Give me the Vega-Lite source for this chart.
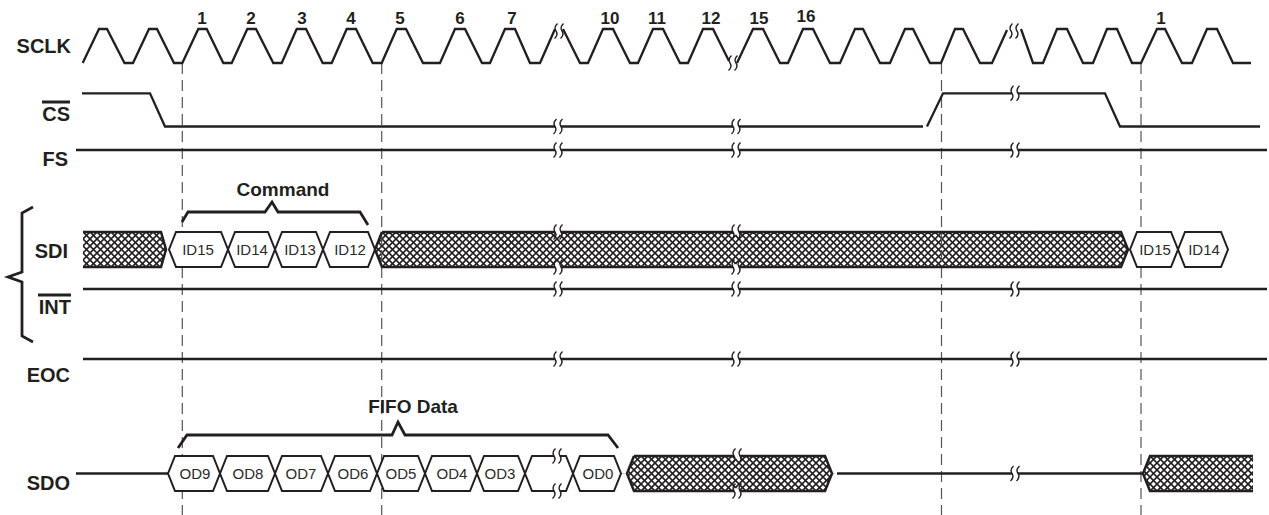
{
"$schema": "https://vega.github.io/schema/vega-lite/v6.json",
"width": 1269, "height": 515, "padding": 0, "autosize": {"type": "none"},
"background": "white",
"config": {"view": {"stroke": null}},
"datasets": {
"dash": [{"x":182.3,"y":63,"y2":515},{"x":381.7,"y":63,"y2":515},{"x":941.5,"y":63,"y2":515},{"x":1141,"y":63,"y2":515}],
"hatch": [
{"b":"A","x":13,"y":267},{"b":"A","x":48,"y":232},{"b":"A","x":83,"y":267},{"b":"A","x":118,"y":232},{"b":"A","x":153,"y":267},{"b":"A","x":188,"y":232},
{"b":"B","x":305,"y":267},{"b":"B","x":340,"y":232},{"b":"B","x":375,"y":267},{"b":"B","x":410,"y":232},{"b":"B","x":445,"y":267},{"b":"B","x":480,"y":232},{"b":"B","x":515,"y":267},{"b":"B","x":550,"y":232},{"b":"B","x":585,"y":267},{"b":"B","x":620,"y":232},{"b":"B","x":655,"y":267},{"b":"B","x":690,"y":232},{"b":"B","x":725,"y":267},{"b":"B","x":760,"y":232},{"b":"B","x":795,"y":267},{"b":"B","x":830,"y":232},{"b":"B","x":865,"y":267},{"b":"B","x":900,"y":232},{"b":"B","x":935,"y":267},{"b":"B","x":970,"y":232},{"b":"B","x":1005,"y":267},{"b":"B","x":1040,"y":232},{"b":"B","x":1075,"y":267},{"b":"B","x":1110,"y":232},{"b":"B","x":1145,"y":267},
{"b":"C","x":557,"y":491},{"b":"C","x":592,"y":456},{"b":"C","x":627,"y":491},{"b":"C","x":662,"y":456},{"b":"C","x":697,"y":491},{"b":"C","x":732,"y":456},{"b":"C","x":767,"y":491},{"b":"C","x":802,"y":456},{"b":"C","x":837,"y":491},
{"b":"D","x":1073,"y":491},{"b":"D","x":1108,"y":456},{"b":"D","x":1143,"y":491},{"b":"D","x":1178,"y":456},{"b":"D","x":1213,"y":491},{"b":"D","x":1248,"y":456},{"b":"D","x":1283,"y":491}
],
"masks": [
{"id":"m1","x":0,"y":229,"y2":270},{"id":"m1","x":83,"y":229,"y2":270},
{"id":"m2u","x":161,"y":229,"y2":232},{"id":"m2u","x":166,"y":229,"y2":249.5},{"id":"m2u","x":375,"y":229,"y2":249.5},{"id":"m2u","x":382,"y":229,"y2":232},
{"id":"m2l","x":161,"y":267,"y2":270},{"id":"m2l","x":166,"y":249.5,"y2":270},{"id":"m2l","x":375,"y":249.5,"y2":270},{"id":"m2l","x":382,"y":267,"y2":270},
{"id":"m3u","x":1121,"y":229,"y2":232},{"id":"m3u","x":1128,"y":229,"y2":249.5},{"id":"m3u","x":1220,"y":229,"y2":249.5},
{"id":"m3l","x":1121,"y":267,"y2":270},{"id":"m3l","x":1128,"y":249.5,"y2":270},{"id":"m3l","x":1220,"y":249.5,"y2":270},
{"id":"m4u","x":550,"y":453,"y2":473.5},{"id":"m4u","x":627,"y":453,"y2":473.5},{"id":"m4u","x":634,"y":453,"y2":456},
{"id":"m4l","x":550,"y":473.5,"y2":494},{"id":"m4l","x":627,"y":473.5,"y2":494},{"id":"m4l","x":634,"y":491,"y2":494},
{"id":"m5u","x":825,"y":453,"y2":456},{"id":"m5u","x":832,"y":453,"y2":473.5},{"id":"m5u","x":910,"y":453,"y2":473.5},
{"id":"m5l","x":825,"y":491,"y2":494},{"id":"m5l","x":832,"y":473.5,"y2":494},{"id":"m5l","x":910,"y":473.5,"y2":494},
{"id":"m6u","x":1065,"y":453,"y2":473.5},{"id":"m6u","x":1143,"y":453,"y2":473.5},{"id":"m6u","x":1150,"y":453,"y2":456},
{"id":"m6l","x":1065,"y":473.5,"y2":494},{"id":"m6l","x":1143,"y":473.5,"y2":494},{"id":"m6l","x":1150,"y":491,"y2":494},
{"id":"m7","x":1253,"y":453,"y2":494},{"id":"m7","x":1300,"y":453,"y2":494}
],
"cells": [
{"id":"ID15a","x":169,"y":249.5,"y2":249.5},{"id":"ID15a","x":176,"y":232,"y2":267},{"id":"ID15a","x":221,"y":232,"y2":267},{"id":"ID15a","x":228,"y":249.5,"y2":249.5},
{"id":"ID14a","x":228,"y":249.5,"y2":249.5},{"id":"ID14a","x":235,"y":232,"y2":267},{"id":"ID14a","x":268,"y":232,"y2":267},{"id":"ID14a","x":275,"y":249.5,"y2":249.5},
{"id":"ID13","x":275,"y":249.5,"y2":249.5},{"id":"ID13","x":282,"y":232,"y2":267},{"id":"ID13","x":316,"y":232,"y2":267},{"id":"ID13","x":323,"y":249.5,"y2":249.5},
{"id":"ID12","x":323,"y":249.5,"y2":249.5},{"id":"ID12","x":330,"y":232,"y2":267},{"id":"ID12","x":368,"y":232,"y2":267},{"id":"ID12","x":375,"y":249.5,"y2":249.5},
{"id":"ID15b","x":1130,"y":249.5,"y2":249.5},{"id":"ID15b","x":1137,"y":232,"y2":267},{"id":"ID15b","x":1171,"y":232,"y2":267},{"id":"ID15b","x":1178,"y":249.5,"y2":249.5},
{"id":"ID14b","x":1178,"y":249.5,"y2":249.5},{"id":"ID14b","x":1185,"y":232,"y2":267},{"id":"ID14b","x":1221,"y":232,"y2":267},{"id":"ID14b","x":1228,"y":249.5,"y2":249.5},
{"id":"OD9","x":168,"y":473.5,"y2":473.5},{"id":"OD9","x":175,"y":456,"y2":491},{"id":"OD9","x":213,"y":456,"y2":491},{"id":"OD9","x":220,"y":473.5,"y2":473.5},
{"id":"OD8","x":220,"y":473.5,"y2":473.5},{"id":"OD8","x":227,"y":456,"y2":491},{"id":"OD8","x":268,"y":456,"y2":491},{"id":"OD8","x":275,"y":473.5,"y2":473.5},
{"id":"OD7","x":275,"y":473.5,"y2":473.5},{"id":"OD7","x":282,"y":456,"y2":491},{"id":"OD7","x":321,"y":456,"y2":491},{"id":"OD7","x":328,"y":473.5,"y2":473.5},
{"id":"OD6","x":328,"y":473.5,"y2":473.5},{"id":"OD6","x":335,"y":456,"y2":491},{"id":"OD6","x":370,"y":456,"y2":491},{"id":"OD6","x":377,"y":473.5,"y2":473.5},
{"id":"OD5","x":377,"y":473.5,"y2":473.5},{"id":"OD5","x":384,"y":456,"y2":491},{"id":"OD5","x":418,"y":456,"y2":491},{"id":"OD5","x":425,"y":473.5,"y2":473.5},
{"id":"OD4","x":425,"y":473.5,"y2":473.5},{"id":"OD4","x":432,"y":456,"y2":491},{"id":"OD4","x":470,"y":456,"y2":491},{"id":"OD4","x":477,"y":473.5,"y2":473.5},
{"id":"OD3","x":477,"y":473.5,"y2":473.5},{"id":"OD3","x":484,"y":456,"y2":491},{"id":"OD3","x":518,"y":456,"y2":491},{"id":"OD3","x":525,"y":473.5,"y2":473.5},
{"id":"ODx","x":525,"y":473.5,"y2":473.5},{"id":"ODx","x":532,"y":456,"y2":491},{"id":"ODx","x":566,"y":456,"y2":491},{"id":"ODx","x":573,"y":473.5,"y2":473.5},
{"id":"OD0","x":573,"y":473.5,"y2":473.5},{"id":"OD0","x":580,"y":456,"y2":491},{"id":"OD0","x":614,"y":456,"y2":491},{"id":"OD0","x":621,"y":473.5,"y2":473.5}
],
"ctext": [
{"t":"ID15","x":198,"y":250},{"t":"ID14","x":252,"y":250},{"t":"ID13","x":300,"y":250},{"t":"ID12","x":350,"y":250},{"t":"ID15","x":1155,"y":250},{"t":"ID14","x":1204,"y":250},
{"t":"OD9","x":195,"y":474},{"t":"OD8","x":248,"y":474},{"t":"OD7","x":301,"y":474},{"t":"OD6","x":353,"y":474},{"t":"OD5","x":401,"y":474},{"t":"OD4","x":452,"y":474},{"t":"OD3","x":500,"y":474},{"t":"OD0","x":598,"y":474}
],
"wires": [
{"id":"s1","k":"sig","x":82.7,"y":63},{"id":"s1","k":"sig","x":99,"y":29},{"id":"s1","k":"sig","x":107,"y":29},{"id":"s1","k":"sig","x":124.5,"y":63},{"id":"s1","k":"sig","x":133,"y":63},{"id":"s1","k":"sig","x":149,"y":29},{"id":"s1","k":"sig","x":157,"y":29},{"id":"s1","k":"sig","x":174,"y":63},{"id":"s1","k":"sig","x":182.3,"y":63},{"id":"s1","k":"sig","x":198.3,"y":29},{"id":"s1","k":"sig","x":206.7,"y":29},{"id":"s1","k":"sig","x":223.3,"y":63},{"id":"s1","k":"sig","x":231.7,"y":63},{"id":"s1","k":"sig","x":247.3,"y":29},{"id":"s1","k":"sig","x":256,"y":29},{"id":"s1","k":"sig","x":273.3,"y":63},{"id":"s1","k":"sig","x":281.7,"y":63},{"id":"s1","k":"sig","x":296.7,"y":29},{"id":"s1","k":"sig","x":306,"y":29},{"id":"s1","k":"sig","x":322.7,"y":63},{"id":"s1","k":"sig","x":331.7,"y":63},{"id":"s1","k":"sig","x":346.7,"y":29},{"id":"s1","k":"sig","x":356,"y":29},{"id":"s1","k":"sig","x":372.7,"y":63},{"id":"s1","k":"sig","x":381.7,"y":63},{"id":"s1","k":"sig","x":396.7,"y":29},{"id":"s1","k":"sig","x":406,"y":29},{"id":"s1","k":"sig","x":423,"y":63},{"id":"s1","k":"sig","x":440,"y":63},{"id":"s1","k":"sig","x":455,"y":29},{"id":"s1","k":"sig","x":465,"y":29},{"id":"s1","k":"sig","x":482,"y":63},{"id":"s1","k":"sig","x":490,"y":63},{"id":"s1","k":"sig","x":505,"y":29},{"id":"s1","k":"sig","x":515,"y":29},{"id":"s1","k":"sig","x":530,"y":63},{"id":"s1","k":"sig","x":540,"y":63},{"id":"s1","k":"sig","x":555,"y":29},
{"id":"s2","k":"sig","x":563,"y":29},{"id":"s2","k":"sig","x":580,"y":63},{"id":"s2","k":"sig","x":588,"y":63},{"id":"s2","k":"sig","x":603,"y":29},{"id":"s2","k":"sig","x":613,"y":29},{"id":"s2","k":"sig","x":630,"y":63},{"id":"s2","k":"sig","x":638,"y":63},{"id":"s2","k":"sig","x":653,"y":29},{"id":"s2","k":"sig","x":663,"y":29},{"id":"s2","k":"sig","x":680,"y":63},{"id":"s2","k":"sig","x":688,"y":63},{"id":"s2","k":"sig","x":703,"y":29},{"id":"s2","k":"sig","x":713,"y":29},{"id":"s2","k":"sig","x":729,"y":61},
{"id":"s3","k":"sig","x":737,"y":63},{"id":"s3","k":"sig","x":753,"y":29},{"id":"s3","k":"sig","x":763,"y":29},{"id":"s3","k":"sig","x":780,"y":63},{"id":"s3","k":"sig","x":788,"y":63},{"id":"s3","k":"sig","x":803,"y":29},{"id":"s3","k":"sig","x":813,"y":29},{"id":"s3","k":"sig","x":830,"y":63},{"id":"s3","k":"sig","x":840,"y":63},{"id":"s3","k":"sig","x":855,"y":29},{"id":"s3","k":"sig","x":863,"y":29},{"id":"s3","k":"sig","x":880,"y":63},{"id":"s3","k":"sig","x":890,"y":63},{"id":"s3","k":"sig","x":905,"y":29},{"id":"s3","k":"sig","x":913,"y":29},{"id":"s3","k":"sig","x":930,"y":63},{"id":"s3","k":"sig","x":941,"y":63},{"id":"s3","k":"sig","x":955,"y":29},{"id":"s3","k":"sig","x":963,"y":29},{"id":"s3","k":"sig","x":980,"y":63},{"id":"s3","k":"sig","x":992,"y":63},{"id":"s3","k":"sig","x":1007,"y":30},
{"id":"s4","k":"sig","x":1021,"y":29},{"id":"s4","k":"sig","x":1033,"y":63},{"id":"s4","k":"sig","x":1043,"y":63},{"id":"s4","k":"sig","x":1057,"y":29},{"id":"s4","k":"sig","x":1067,"y":29},{"id":"s4","k":"sig","x":1083,"y":63},{"id":"s4","k":"sig","x":1093,"y":63},{"id":"s4","k":"sig","x":1107,"y":29},{"id":"s4","k":"sig","x":1117,"y":29},{"id":"s4","k":"sig","x":1132,"y":63},{"id":"s4","k":"sig","x":1141,"y":63},{"id":"s4","k":"sig","x":1157,"y":29},{"id":"s4","k":"sig","x":1165,"y":29},{"id":"s4","k":"sig","x":1182,"y":63},{"id":"s4","k":"sig","x":1192,"y":63},{"id":"s4","k":"sig","x":1207,"y":29},{"id":"s4","k":"sig","x":1217,"y":29},{"id":"s4","k":"sig","x":1233,"y":63},{"id":"s4","k":"sig","x":1251,"y":63},
{"id":"c1","k":"sig","x":82,"y":93.3},{"id":"c1","k":"sig","x":150,"y":93.3},{"id":"c1","k":"sig","x":165,"y":126.5},{"id":"c1","k":"sig","x":923,"y":126.5},
{"id":"c2","k":"sig","x":927,"y":126.5},{"id":"c2","k":"sig","x":943,"y":93.3},{"id":"c2","k":"sig","x":1105,"y":93.3},{"id":"c2","k":"sig","x":1120,"y":126.5},{"id":"c2","k":"sig","x":1260,"y":126.5},
{"id":"fs","k":"sig","x":76,"y":150},{"id":"fs","k":"sig","x":1267,"y":150},
{"id":"int","k":"sig","x":83,"y":289},{"id":"int","k":"sig","x":1267,"y":289},
{"id":"eoc","k":"sig","x":83,"y":359},{"id":"eoc","k":"sig","x":1267,"y":359},
{"id":"sdo1","k":"sig","x":76,"y":473.5},{"id":"sdo1","k":"sig","x":168,"y":473.5},
{"id":"sdo2","k":"sig","x":837,"y":473.5},{"id":"sdo2","k":"sig","x":1143,"y":473.5},
{"id":"bA","k":"band","x":83,"y":232},{"id":"bA","k":"band","x":161,"y":232},{"id":"bA","k":"band","x":166,"y":249.5},{"id":"bA","k":"band","x":161,"y":267},{"id":"bA","k":"band","x":83,"y":267},
{"id":"bB","k":"band","x":382,"y":232},{"id":"bB","k":"band","x":1121,"y":232},{"id":"bB","k":"band","x":1128,"y":249.5},{"id":"bB","k":"band","x":1121,"y":267},{"id":"bB","k":"band","x":382,"y":267},{"id":"bB","k":"band","x":375,"y":249.5},{"id":"bB","k":"band","x":382,"y":232},
{"id":"bC","k":"band","x":634,"y":456},{"id":"bC","k":"band","x":825,"y":456},{"id":"bC","k":"band","x":832,"y":473.5},{"id":"bC","k":"band","x":825,"y":491},{"id":"bC","k":"band","x":634,"y":491},{"id":"bC","k":"band","x":627,"y":473.5},{"id":"bC","k":"band","x":634,"y":456},
{"id":"bD","k":"band","x":1253,"y":456},{"id":"bD","k":"band","x":1150,"y":456},{"id":"bD","k":"band","x":1143,"y":473.5},{"id":"bD","k":"band","x":1150,"y":491},{"id":"bD","k":"band","x":1253,"y":491},
{"id":"brace","k":"thin","x":33,"y":207},{"id":"brace","k":"thin","x":22,"y":213},{"id":"brace","k":"thin","x":22,"y":272},{"id":"brace","k":"thin","x":8,"y":277},{"id":"brace","k":"thin","x":22,"y":282},{"id":"brace","k":"thin","x":22,"y":336},{"id":"brace","k":"thin","x":33,"y":342},
{"id":"cmd","k":"thin","x":182,"y":222},{"id":"cmd","k":"thin","x":188,"y":212},{"id":"cmd","k":"thin","x":265,"y":212},{"id":"cmd","k":"thin","x":272,"y":202},{"id":"cmd","k":"thin","x":278,"y":212},{"id":"cmd","k":"thin","x":360,"y":212},{"id":"cmd","k":"thin","x":368,"y":225},
{"id":"fifo","k":"thin","x":178,"y":448},{"id":"fifo","k":"thin","x":187,"y":435},{"id":"fifo","k":"thin","x":392,"y":435},{"id":"fifo","k":"thin","x":398,"y":422},{"id":"fifo","k":"thin","x":405,"y":435},{"id":"fifo","k":"thin","x":608,"y":435},{"id":"fifo","k":"thin","x":618,"y":448},
{"id":"ovcs","k":"over","x":42,"y":102},{"id":"ovcs","k":"over","x":70,"y":102},
{"id":"ovint","k":"over","x":38,"y":295},{"id":"ovint","k":"over","x":71,"y":295}
],
"breaks": [
{"k":"clock","x":559,"y":31},{"k":"clock","x":733,"y":63},{"k":"clock","x":1014,"y":31},
{"k":"line","x":558,"y":126.5},{"k":"line","x":736,"y":126.5},{"k":"line","x":1015,"y":93.3},
{"k":"line","x":558,"y":150},{"k":"line","x":736,"y":150},{"k":"line","x":1015,"y":150},
{"k":"line","x":558,"y":232},{"k":"line","x":736,"y":232},{"k":"line","x":558,"y":267},{"k":"line","x":736,"y":267},
{"k":"line","x":558,"y":289},{"k":"line","x":736,"y":289},{"k":"line","x":1015,"y":289},
{"k":"line","x":558,"y":359},{"k":"line","x":736,"y":359},{"k":"line","x":1015,"y":359},
{"k":"line","x":557,"y":456},{"k":"line","x":557,"y":491},{"k":"line","x":737,"y":456},{"k":"line","x":737,"y":491},
{"k":"line","x":1015,"y":473.5}
],
"labels": [
{"t":"SCLK","x":71,"y":53},{"t":"CS","x":70,"y":121},{"t":"FS","x":68,"y":166},{"t":"SDI","x":68,"y":258},{"t":"INT","x":71,"y":314},{"t":"EOC","x":70,"y":382},{"t":"SDO","x":70,"y":490}
],
"notes": [{"t":"Command","x":283,"y":196},{"t":"FIFO Data","x":413,"y":413}],
"nums": [
{"t":"1","x":202,"y":24},{"t":"2","x":251,"y":24},{"t":"3","x":302,"y":24},{"t":"4","x":351,"y":24},{"t":"5","x":400,"y":24},{"t":"6","x":460,"y":24},{"t":"7","x":512,"y":24},{"t":"10","x":610,"y":24},{"t":"11","x":657,"y":24},{"t":"12","x":711,"y":24},{"t":"15","x":759,"y":24},{"t":"16","x":806,"y":22},{"t":"1","x":1161,"y":24}
]
},
"encoding": {
"x": {"field":"x","type":"quantitative","scale":{"domain":[0,1269],"nice":false,"zero":false},"axis":null},
"y": {"field":"y","type":"quantitative","scale":{"domain":[0,515],"reverse":true,"nice":false,"zero":false},"axis":null}
},
"layer": [
{"data":{"name":"hatch"},
 "encoding":{"detail":{"field":"b"}},
 "layer":[
 {"mark":{"type":"line","color":"#231f20","strokeWidth":1.6,"xOffset":0,"clip":true}},
 {"mark":{"type":"line","color":"#231f20","strokeWidth":1.6,"xOffset":7,"clip":true}},
 {"mark":{"type":"line","color":"#231f20","strokeWidth":1.6,"xOffset":14,"clip":true}},
 {"mark":{"type":"line","color":"#231f20","strokeWidth":1.6,"xOffset":21,"clip":true}},
 {"mark":{"type":"line","color":"#231f20","strokeWidth":1.6,"xOffset":28,"clip":true}},
 {"mark":{"type":"line","color":"#231f20","strokeWidth":1.6,"xOffset":35,"clip":true}},
 {"mark":{"type":"line","color":"#231f20","strokeWidth":1.6,"xOffset":42,"clip":true}},
 {"mark":{"type":"line","color":"#231f20","strokeWidth":1.6,"xOffset":49,"clip":true}},
 {"mark":{"type":"line","color":"#231f20","strokeWidth":1.6,"xOffset":56,"clip":true}},
 {"mark":{"type":"line","color":"#231f20","strokeWidth":1.6,"xOffset":63,"clip":true}}
 ]},
{"data":{"name":"masks"},"mark":{"type":"area","fill":"white","opacity":1,"strokeWidth":0,"clip":true},
 "encoding":{"y2":{"field":"y2"},"detail":{"field":"id"}}},
{"data":{"name":"dash"},"mark":{"type":"rule","color":"#555555","strokeWidth":1.2,"strokeDash":[11,6]},
 "encoding":{"y2":{"field":"y2"}}},
{"data":{"name":"cells"},"mark":{"type":"area","fill":"white","stroke":"#231f20","strokeWidth":2,"strokeJoin":"miter","opacity":1},
 "encoding":{"y2":{"field":"y2"},"detail":{"field":"id"}}},
{"data":{"name":"wires"},"mark":{"type":"line","color":"#231f20","strokeJoin":"miter"},
 "encoding":{"detail":{"field":"id"},"order":{"value":null},
  "strokeWidth":{"field":"k","type":"nominal","scale":{"domain":["sig","band","thin","over"],"range":[2.3,3,1.4,2.4]},"legend":null}}},
{"data":{"name":"breaks"},"transform":[{"filter":"datum.k === 'line'"}],
 "mark":{"type":"point","shape":"M-3,-2.8L3,-2.8L3,2.8L-3,2.8Z","size":4,"filled":true,"color":"white","opacity":1,"strokeWidth":0}},
{"data":{"name":"breaks"},
 "mark":{"type":"point","shape":"M-1.5,-7.5Q-5.5,-3.7 -3,0Q-0.5,3.7 -4.5,7.5M4.5,-7.5Q0.5,-3.7 3,0Q5.5,3.7 1.5,7.5","size":4,"filled":false,"color":"#231f20","strokeWidth":1.4,"opacity":1}},
{"data":{"name":"ctext"},"mark":{"type":"text","font":"Liberation Sans","fontSize":15,"align":"center","baseline":"middle","color":"#2a2a2a"},
 "encoding":{"text":{"field":"t"}}},
{"data":{"name":"labels"},"mark":{"type":"text","font":"Liberation Sans","fontWeight":"bold","fontSize":20,"align":"right","baseline":"alphabetic","color":"#231f20"},
 "encoding":{"text":{"field":"t"}}},
{"data":{"name":"notes"},"mark":{"type":"text","font":"Liberation Sans","fontWeight":"bold","fontSize":19,"align":"center","baseline":"alphabetic","color":"#231f20"},
 "encoding":{"text":{"field":"t"}}},
{"data":{"name":"nums"},"mark":{"type":"text","font":"Liberation Sans","fontWeight":"bold","fontSize":17,"align":"center","baseline":"alphabetic","color":"#231f20"},
 "encoding":{"text":{"field":"t"}}}
]
}
